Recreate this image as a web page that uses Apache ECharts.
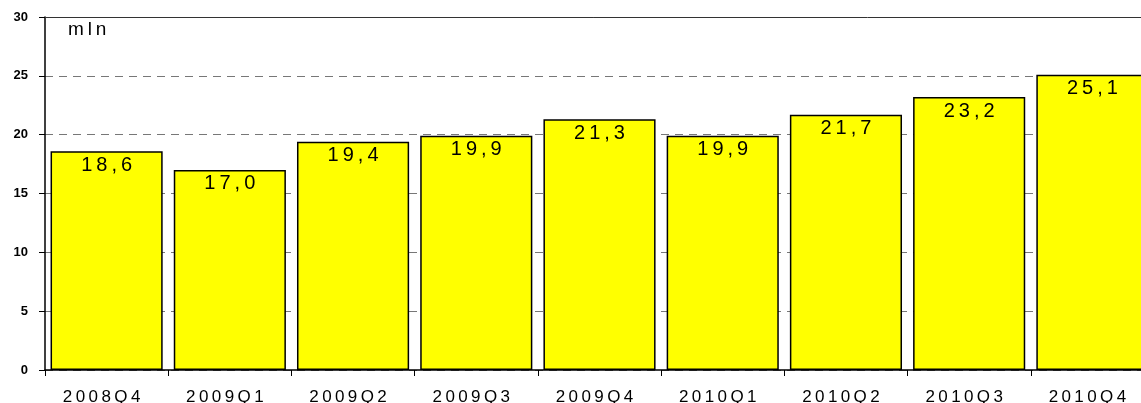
<!DOCTYPE html>
<html>
<head>
<meta charset="utf-8">
<script src="https://cdn.jsdelivr.net/npm/echarts@6/dist/echarts.min.js"></script>
<style>
  html, body { margin: 0; padding: 0; background: #fff; }
  #main { width: 1141px; height: 403px; }
</style>
</head>
<body>
<div id="main"></div>
<script>
var categories = ['2008Q4', '2009Q1', '2009Q2', '2009Q3', '2009Q4', '2010Q1', '2010Q2', '2010Q3', '2010Q4'];
var values = [18.6, 17.0, 19.4, 19.9, 21.3, 19.9, 21.7, 23.2, 25.1];
var unitLabel = 'mln';

// spread characters like the original (wide tracking)
function spaced(s) { return String(s).split('').join('\u2009'); }

var chart = echarts.init(document.getElementById('main'));
chart.setOption({
  animation: false,
  // the last bar runs past the right edge in the original
  grid: { left: 45, right: -13, top: 17, bottom: 33, outerBoundsMode: 'none' },
  xAxis: [
    {
      type: 'category',
      data: categories,
      axisLine: { lineStyle: { color: '#000', width: 1.5 } },
      axisTick: { show: true, length: 6, lineStyle: { color: '#000' } },
      axisLabel: {
        color: '#000',
        fontFamily: 'Liberation Sans',
        fontSize: 17,
        margin: 19,
        padding: [0, 10, 0, 0],
        formatter: spaced
      }
    },
    {
      type: 'category',
      position: 'top',
      data: categories,
      axisLine: { lineStyle: { color: '#333', width: 1 } },
      axisTick: { show: false },
      axisLabel: { show: false }
    }
  ],
  yAxis: {
    type: 'value',
    min: 0,
    max: 30,
    interval: 5,
    axisLine: { show: true, lineStyle: { color: '#000', width: 1.5 } },
    axisTick: { show: true, length: 6, lineStyle: { color: '#000' } },
    axisLabel: {
      color: '#000',
      fontFamily: 'Liberation Sans',
      fontWeight: 'bold',
      fontSize: 13,
      margin: 17
    },
    splitLine: { show: true, lineStyle: { color: '#777', type: [8, 6], width: 1 } }
  },
  graphic: [
    {
      type: 'text',
      left: 68,
      top: 20,
      style: { text: spaced(unitLabel), font: '19px "Liberation Sans"', fill: '#000' }
    }
  ],
  series: [
    {
      type: 'bar',
      data: values,
      barCategoryGap: '9%',
      itemStyle: { color: '#ffff00', borderColor: '#000', borderWidth: 1.5 },
      label: {
        show: true,
        position: 'insideTop',
        distance: 4,
        color: '#000',
        fontFamily: 'Liberation Sans',
        fontSize: 20,
        formatter: function (p) { return spaced(p.value.toFixed(1).replace('.', ',')); }
      }
    }
  ]
});
</script>
</body>
</html>
